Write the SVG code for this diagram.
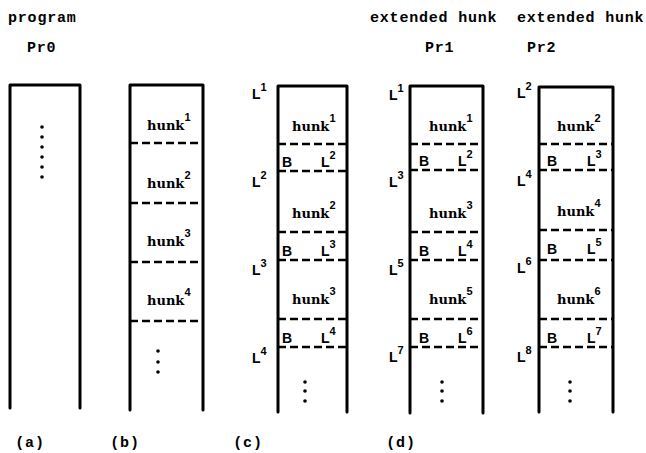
<svg xmlns="http://www.w3.org/2000/svg" width="646" height="453" viewBox="0 0 646 453">
<style>
.box{fill:none;stroke:#000;stroke-width:3;stroke-linejoin:round;stroke-linecap:round}
.dash{fill:none;stroke:#000;stroke-width:2.5;stroke-dasharray:8 4}
.title{font-family:"Liberation Mono",monospace;font-weight:bold;font-size:15px;letter-spacing:0.8px;fill:#000}
.hunk{font-family:"DejaVu Serif",serif;font-weight:bold;font-size:13px;fill:#000}
.lab{font-family:"Liberation Sans",Arial,sans-serif;font-weight:bold;font-size:14px;fill:#000}
.sup{font-family:"Liberation Sans",Arial,sans-serif;font-weight:bold;font-size:11px;fill:#000}
.dot{fill:#000}
</style>
<rect width="646" height="453" fill="#fff"/>

<g id="titles">
<text class="title" x="8" y="22">program</text>
<text class="title" x="27" y="52">Pr0</text>
<text class="title" x="370" y="22">extended hunk</text>
<text class="title" x="517" y="22">extended hunk</text>
<text class="title" x="425" y="52">Pr1</text>
<text class="title" x="527" y="52">Pr2</text>
</g>

<g id="colA">
<path class="box" d="M10,408 V85 H80 V408"/>
<circle class="dot" cx="42" cy="127" r="1.8"/>
<circle class="dot" cx="42" cy="137" r="1.8"/>
<circle class="dot" cx="42" cy="147" r="1.8"/>
<circle class="dot" cx="42" cy="157" r="1.8"/>
<circle class="dot" cx="42" cy="167" r="1.8"/>
<circle class="dot" cx="42" cy="177" r="1.8"/>
</g>

<g id="colB">
<path class="box" d="M130,410 V85 H203 V410"/>
<line class="dash" x1="130" y1="143" x2="203" y2="143"/>
<line class="dash" x1="130" y1="203" x2="203" y2="203"/>
<line class="dash" x1="130" y1="262" x2="203" y2="262"/>
<line class="dash" x1="130" y1="321" x2="203" y2="321"/>
<text class="hunk" x="147" y="130">hunk<tspan class="sup" dy="-9">1</tspan></text>
<text class="hunk" x="147" y="188">hunk<tspan class="sup" dy="-9">2</tspan></text>
<text class="hunk" x="147" y="246">hunk<tspan class="sup" dy="-9">3</tspan></text>
<text class="hunk" x="147" y="305">hunk<tspan class="sup" dy="-9">4</tspan></text>
<circle class="dot" cx="158" cy="351" r="1.8"/>
<circle class="dot" cx="158" cy="362" r="1.8"/>
<circle class="dot" cx="158" cy="372" r="1.8"/>
</g>

<g id="colC">
<path class="box" d="M278,412 V86 H347 V412"/>
<line class="dash" x1="278" y1="144" x2="347" y2="144"/>
<line class="dash" x1="278" y1="171" x2="347" y2="171"/>
<line class="dash" x1="278" y1="232" x2="347" y2="232"/>
<line class="dash" x1="278" y1="260" x2="347" y2="260"/>
<line class="dash" x1="278" y1="319" x2="347" y2="319"/>
<line class="dash" x1="278" y1="347" x2="347" y2="347"/>
<text class="hunk" x="292" y="131">hunk<tspan class="sup" dy="-9">1</tspan></text>
<text class="hunk" x="292" y="218">hunk<tspan class="sup" dy="-9">2</tspan></text>
<text class="hunk" x="292" y="304">hunk<tspan class="sup" dy="-9">3</tspan></text>
<text class="lab" x="282" y="167">B</text>
<text class="lab" x="321" y="167">L<tspan class="sup" dy="-8">2</tspan></text>
<text class="lab" x="282" y="256">B</text>
<text class="lab" x="321" y="256">L<tspan class="sup" dy="-8">3</tspan></text>
<text class="lab" x="282" y="343">B</text>
<text class="lab" x="321" y="343">L<tspan class="sup" dy="-8">4</tspan></text>
<text class="lab" x="252" y="99">L<tspan class="sup" dy="-8">1</tspan></text>
<text class="lab" x="252" y="187">L<tspan class="sup" dy="-8">2</tspan></text>
<text class="lab" x="252" y="275">L<tspan class="sup" dy="-8">3</tspan></text>
<text class="lab" x="252" y="363">L<tspan class="sup" dy="-8">4</tspan></text>
<circle class="dot" cx="305" cy="382" r="1.8"/>
<circle class="dot" cx="305" cy="391" r="1.8"/>
<circle class="dot" cx="305" cy="401" r="1.8"/>
</g>

<g id="colD1">
<path class="box" d="M410,413 V86 H483 V413"/>
<line class="dash" x1="410" y1="144" x2="483" y2="144"/>
<line class="dash" x1="410" y1="170" x2="483" y2="170"/>
<line class="dash" x1="410" y1="232" x2="483" y2="232"/>
<line class="dash" x1="410" y1="260" x2="483" y2="260"/>
<line class="dash" x1="410" y1="319" x2="483" y2="319"/>
<line class="dash" x1="410" y1="347" x2="483" y2="347"/>
<text class="hunk" x="429" y="131">hunk<tspan class="sup" dy="-9">1</tspan></text>
<text class="hunk" x="429" y="218">hunk<tspan class="sup" dy="-9">3</tspan></text>
<text class="hunk" x="429" y="304">hunk<tspan class="sup" dy="-9">5</tspan></text>
<text class="lab" x="419" y="166">B</text>
<text class="lab" x="458" y="166">L<tspan class="sup" dy="-8">2</tspan></text>
<text class="lab" x="419" y="256">B</text>
<text class="lab" x="458" y="256">L<tspan class="sup" dy="-8">4</tspan></text>
<text class="lab" x="419" y="343">B</text>
<text class="lab" x="458" y="343">L<tspan class="sup" dy="-8">6</tspan></text>
<text class="lab" x="389" y="100">L<tspan class="sup" dy="-8">1</tspan></text>
<text class="lab" x="389" y="187">L<tspan class="sup" dy="-8">3</tspan></text>
<text class="lab" x="389" y="275">L<tspan class="sup" dy="-8">5</tspan></text>
<text class="lab" x="389" y="362">L<tspan class="sup" dy="-8">7</tspan></text>
<circle class="dot" cx="442" cy="382" r="1.8"/>
<circle class="dot" cx="442" cy="391" r="1.8"/>
<circle class="dot" cx="442" cy="401" r="1.8"/>
</g>

<g id="colD2">
<path class="box" d="M539,412 V87 H613 V412"/>
<line class="dash" x1="539" y1="144" x2="613" y2="144"/>
<line class="dash" x1="539" y1="170" x2="613" y2="170"/>
<line class="dash" x1="539" y1="230" x2="613" y2="230"/>
<line class="dash" x1="539" y1="260" x2="613" y2="260"/>
<line class="dash" x1="539" y1="319" x2="613" y2="319"/>
<line class="dash" x1="539" y1="347" x2="613" y2="347"/>
<text class="hunk" x="557" y="131">hunk<tspan class="sup" dy="-9">2</tspan></text>
<text class="hunk" x="557" y="216">hunk<tspan class="sup" dy="-9">4</tspan></text>
<text class="hunk" x="557" y="304">hunk<tspan class="sup" dy="-9">6</tspan></text>
<text class="lab" x="547" y="166">B</text>
<text class="lab" x="587" y="166">L<tspan class="sup" dy="-8">3</tspan></text>
<text class="lab" x="547" y="254">B</text>
<text class="lab" x="587" y="254">L<tspan class="sup" dy="-8">5</tspan></text>
<text class="lab" x="547" y="343">B</text>
<text class="lab" x="587" y="343">L<tspan class="sup" dy="-8">7</tspan></text>
<text class="lab" x="517" y="98">L<tspan class="sup" dy="-8">2</tspan></text>
<text class="lab" x="517" y="186">L<tspan class="sup" dy="-8">4</tspan></text>
<text class="lab" x="517" y="273">L<tspan class="sup" dy="-8">6</tspan></text>
<text class="lab" x="517" y="362">L<tspan class="sup" dy="-8">8</tspan></text>
<circle class="dot" cx="570" cy="382" r="1.8"/>
<circle class="dot" cx="570" cy="391" r="1.8"/>
<circle class="dot" cx="570" cy="401" r="1.8"/>
</g>

<g id="captions">
<text class="title" x="30" y="447" text-anchor="middle">(a)</text>
<text class="title" x="125" y="447" text-anchor="middle">(b)</text>
<text class="title" x="248" y="447" text-anchor="middle">(c)</text>
<text class="title" x="401" y="447" text-anchor="middle">(d)</text>
</g>
</svg>
